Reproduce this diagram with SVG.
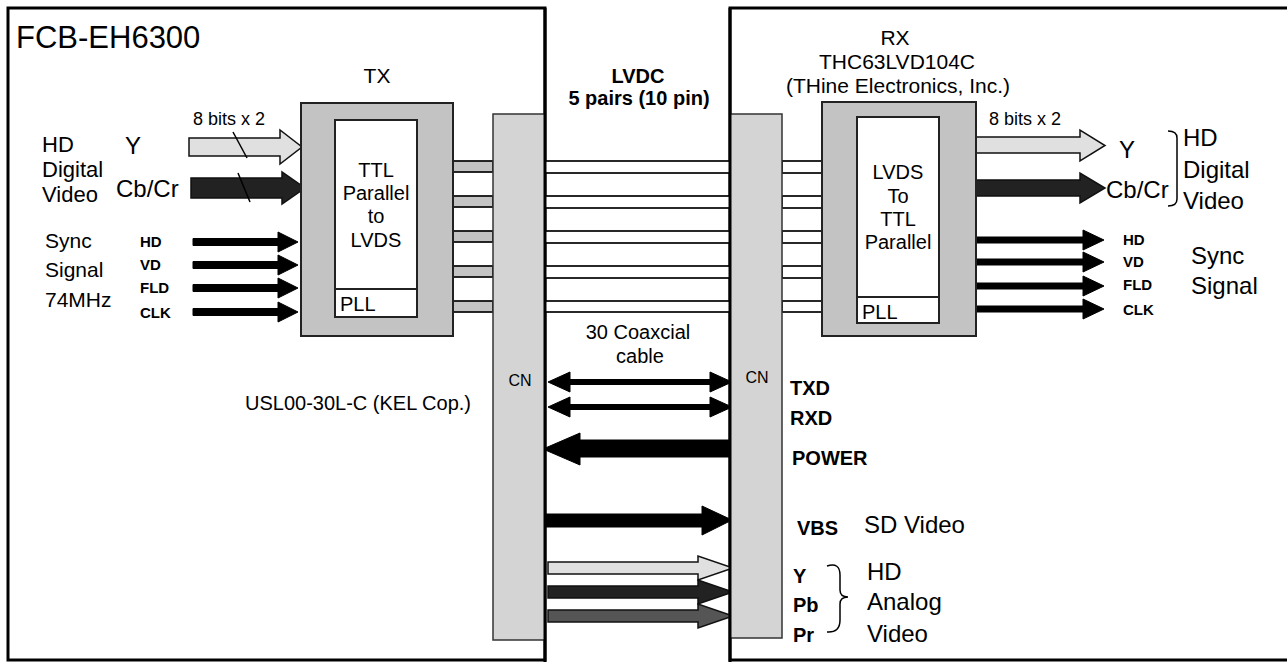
<svg xmlns="http://www.w3.org/2000/svg" width="1287" height="662" viewBox="0 0 1287 662">
<style>
text{font-family:"Liberation Sans",Arial,Helvetica,sans-serif;fill:#000}
.b{font-weight:bold}
.frame{fill:#fff;stroke:#000;stroke-width:3}
.chip{fill:#c3c3c3;stroke:#222;stroke-width:2}
.inner{fill:#fff;stroke:#222;stroke-width:2}
.cn{fill:#d4d4d4;stroke:#333;stroke-width:1.5}
.stubg{fill:#c3c3c3;stroke:#111;stroke-width:1.8}
.stubw{fill:#fff;stroke:#111;stroke-width:1.8}
.ablk{fill:#000;stroke:#000;stroke-width:1}
.alt{fill:#e0e0e0;stroke:#111;stroke-width:1.5}
.adk{fill:#222;stroke:#111;stroke-width:1.5}
.amd{fill:#555;stroke:#111;stroke-width:1.5}
.ln{fill:none;stroke:#000;stroke-width:1.5}
</style>

<g id="camera-board">
<rect class="frame" x="8" y="8" width="537" height="652"/>
<text x="16" y="48" font-size="31">FCB-EH6300</text>
<text x="42" y="152" font-size="22">HD</text>
<text x="42" y="177" font-size="22">Digital</text>
<text x="42" y="202" font-size="22">Video</text>
<text x="125" y="154" font-size="24">Y</text>
<text x="116" y="197" font-size="24">Cb/Cr</text>
<text x="193" y="125" font-size="18">8 bits x 2</text>
<text x="45" y="248" font-size="21">Sync</text>
<text x="45" y="277" font-size="21">Signal</text>
<text x="45" y="307" font-size="21">74MHz</text>
<text class="b" x="140" y="247" font-size="15">HD</text>
<text class="b" x="140" y="270" font-size="15">VD</text>
<text class="b" x="140" y="293" font-size="15">FLD</text>
<text class="b" x="140" y="318" font-size="15">CLK</text>
<text x="245" y="410" font-size="20">USL00-30L-C (KEL Cop.)</text>
</g>

<g id="receiver-board">
<rect class="frame" x="730" y="8" width="600" height="652"/>
<text x="895" y="45" font-size="21" text-anchor="middle">RX</text>
<text x="897" y="69" font-size="21" text-anchor="middle">THC63LVD104C</text>
<text x="898" y="93" font-size="21" text-anchor="middle">(THine Electronics, Inc.)</text>
<text x="989" y="125" font-size="18">8 bits x 2</text>
<text x="1119" y="158" font-size="24">Y</text>
<text x="1106" y="198" font-size="24">Cb/Cr</text>
<path class="ln" d="M1168,131 Q1177,131 1177,138 L1177,199 Q1177,206 1168,206"/>
<text x="1183" y="146" font-size="24">HD</text>
<text x="1183" y="178" font-size="24">Digital</text>
<text x="1183" y="209" font-size="24">Video</text>
<text class="b" x="1123" y="245" font-size="15">HD</text>
<text class="b" x="1123" y="267" font-size="15">VD</text>
<text class="b" x="1123" y="290" font-size="15">FLD</text>
<text class="b" x="1123" y="315" font-size="15">CLK</text>
<text x="1191" y="264" font-size="24">Sync</text>
<text x="1191" y="294" font-size="24">Signal</text>
<text class="b" x="790" y="395" font-size="20">TXD</text>
<text class="b" x="790" y="425" font-size="20">RXD</text>
<text class="b" x="792" y="465" font-size="20">POWER</text>
<text class="b" x="797" y="535" font-size="20">VBS</text>
<text x="864" y="533" font-size="24">SD Video</text>
<text class="b" x="793" y="583" font-size="20">Y</text>
<text class="b" x="793" y="612" font-size="20">Pb</text>
<text class="b" x="793" y="642" font-size="20">Pr</text>
<path class="ln" d="M827,566 Q840,562 840,575 L840,590 Q840,597 848,597 Q840,597 840,604 L840,620 Q840,633 827,632"/>
<text x="867" y="580" font-size="24">HD</text>
<text x="867" y="610" font-size="24">Analog</text>
<text x="867" y="642" font-size="24">Video</text>
</g>

<g id="cable-label">
<text class="b" x="638" y="83" font-size="20" text-anchor="middle">LVDC</text>
<text class="b" x="639" y="105" font-size="20" text-anchor="middle">5 pairs (10 pin)</text>
<text x="638" y="339" font-size="20" text-anchor="middle">30 Coaxcial</text>
<text x="640" y="363" font-size="20" text-anchor="middle">cable</text>
</g>

<g id="connectors">
<rect class="stubg" x="453" y="161" width="40" height="11"/>
<rect class="stubg" x="453" y="196" width="40" height="11"/>
<rect class="stubg" x="453" y="231" width="40" height="11"/>
<rect class="stubg" x="453" y="266" width="40" height="11"/>
<rect class="stubg" x="453" y="301" width="40" height="11"/>
<rect class="stubw" x="545" y="161" width="185" height="12"/>
<rect class="stubw" x="545" y="196" width="185" height="12"/>
<rect class="stubw" x="545" y="231" width="185" height="12"/>
<rect class="stubw" x="545" y="266" width="185" height="12"/>
<rect class="stubw" x="545" y="301" width="185" height="11"/>
<rect class="stubw" x="782" y="161" width="40" height="12"/>
<rect class="stubw" x="782" y="196" width="40" height="12"/>
<rect class="stubw" x="782" y="231" width="40" height="12"/>
<rect class="stubw" x="782" y="266" width="40" height="12"/>
<rect class="stubw" x="782" y="301" width="40" height="11"/>

<polygon class="alt" points="189,138 280,138 280,130 302,147 280,164 280,156 189,156"/>
<polygon class="adk" points="191,178 282,178 282,172 305,188 282,204 282,198 191,198"/>
<line class="ln" x1="233" y1="132" x2="247" y2="158"/>
<line class="ln" x1="238" y1="173" x2="250" y2="202"/>
<polygon class="ablk" points="193,238.5 278,238.5 278,232 298,242 278,252 278,245.5 193,245.5"/>
<polygon class="ablk" points="193,261.5 278,261.5 278,255 298,265 278,275 278,268.5 193,268.5"/>
<polygon class="ablk" points="193,284.5 278,284.5 278,278 298,288 278,298 278,291.5 193,291.5"/>
<polygon class="ablk" points="193,308.5 278,308.5 278,302 298,312 278,322 278,315.5 193,315.5"/>

<polygon class="alt" points="976,137 1080,137 1080,130 1105,145.5 1080,161 1080,153 976,153"/>
<polygon class="adk" points="976,180 1080,180 1080,173 1105,188 1080,203 1080,196 976,196"/>
<polygon class="ablk" points="976,237 1083,237 1083,230 1104,240 1083,250 1083,243 976,243"/>
<polygon class="ablk" points="976,259 1083,259 1083,252 1104,262 1083,272 1083,265 976,265"/>
<polygon class="ablk" points="976,283 1083,283 1083,276 1104,286 1083,296 1083,289 976,289"/>
<polygon class="ablk" points="976,306 1083,306 1083,299 1104,309 1083,319 1083,312 976,312"/>

<polygon class="ablk" points="548,382 570,372 570,379.5 710,379.5 710,372 732,382 710,392 710,384.5 570,384.5 570,392"/>
<polygon class="ablk" points="548,407 570,397 570,404.5 710,404.5 710,397 732,407 710,417 710,409.5 570,409.5 570,417"/>
<polygon class="ablk" points="730,440 580,440 580,433 543,449 580,465 580,457 730,457"/>
<polygon class="ablk" points="546,514 702,514 702,506 732,520 702,535 702,527 546,527"/>
<polygon class="alt" points="548,562 698,562 698,556 733,568 698,580 698,574 548,574"/>
<polygon class="adk" points="548,586 698,586 698,580 733,592 698,604 698,598 548,598"/>
<polygon class="amd" points="548,610 698,610 698,604 733,616 698,628 698,622 548,622"/>
</g>

<g id="tx">
<rect class="chip" x="301" y="103" width="152" height="233"/>
<rect class="inner" x="335" y="120" width="82" height="197"/>
<line x1="335" y1="289" x2="417" y2="289" stroke="#222" stroke-width="2"/>
<text x="377" y="83" font-size="21" text-anchor="middle">TX</text>
<text x="376" y="177" font-size="20" text-anchor="middle">TTL</text>
<text x="376" y="200" font-size="20" text-anchor="middle">Parallel</text>
<text x="376" y="223" font-size="20" text-anchor="middle">to</text>
<text x="376" y="247" font-size="20" text-anchor="middle">LVDS</text>
<text x="340" y="311" font-size="20">PLL</text>
</g>

<g id="rx">
<rect class="chip" x="822" y="102" width="154" height="234"/>
<rect class="inner" x="857" y="117" width="82" height="206"/>
<line x1="857" y1="297" x2="939" y2="297" stroke="#222" stroke-width="2"/>
<text x="898" y="179" font-size="20" text-anchor="middle">LVDS</text>
<text x="898" y="203" font-size="20" text-anchor="middle">To</text>
<text x="898" y="226" font-size="20" text-anchor="middle">TTL</text>
<text x="898" y="249" font-size="20" text-anchor="middle">Parallel</text>
<text x="862" y="319" font-size="20">PLL</text>
</g>

<g id="cn-left">
<rect class="cn" x="493" y="114" width="52" height="526"/>
<text x="520" y="386" font-size="16" text-anchor="middle">CN</text>
</g>
<g id="cn-right">
<rect class="cn" x="730" y="114" width="52" height="524"/>
<text x="757" y="383" font-size="16" text-anchor="middle">CN</text>
</g>
<line x1="545" y1="8" x2="545" y2="662" stroke="#000" stroke-width="3"/>
<line x1="730" y1="8" x2="730" y2="662" stroke="#000" stroke-width="3"/>
</svg>
